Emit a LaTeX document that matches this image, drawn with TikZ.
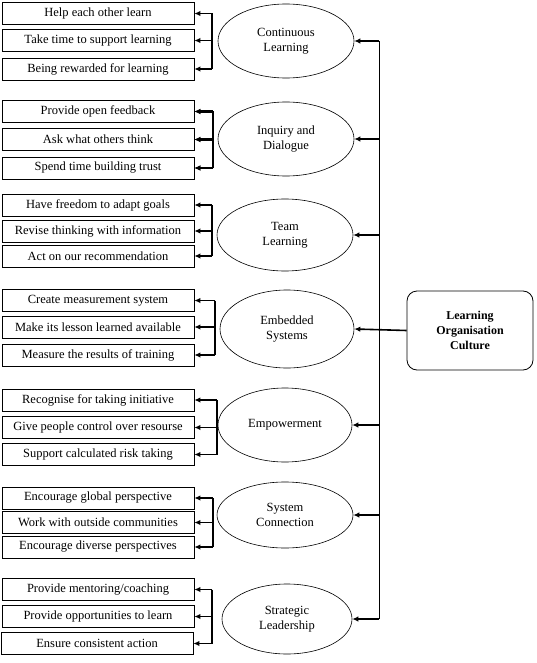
\documentclass[tikz,border=0pt]{standalone}
\usepackage{fontspec}
\setmainfont{Liberation Serif}
\usepackage{tikz}
\usetikzlibrary{arrows.meta}
\usetikzlibrary{shapes.geometric}

\begin{document}
\begin{tikzpicture}[x=1pt, y=-1pt, >={Latex[length=6pt,width=5.5pt]},
    item/.style={draw, line width=0.8pt, minimum width=192, minimum height=22,
        inner sep=0pt, font=\fontsize{12.5}{15}\selectfont},
    aspect/.style={draw, ellipse, line width=0.6pt, minimum width=136, minimum height=74,
        inner sep=0pt, align=center, font=\fontsize{12.5}{15}\selectfont},
    feed/.style={line width=1.4pt, ->},
    bracket/.style={line width=1.2pt}]

    % === Area del disegno ===
    \useasboundingbox (0,0) rectangle (537,663);

    % === Colonne di riferimento ===
    \coordinate (bus) at (379,0);   % Linea verticale principale
    \coordinate (br1) at (212,0);
    \coordinate (br2) at (213,0);
    \coordinate (br3) at (212,0);
    \coordinate (br4) at (215,0);
    \coordinate (br5) at (217,0);
    \coordinate (br6) at (213,0);
    \coordinate (br7) at (212,0);

    % === 1. Dimensioni (ellissi) ===
    \node[aspect] (c1) at (286,41) {Continuous\\Learning};
    \node[aspect] (c2) at (286,139) {Inquiry and\\Dialogue};
    \node[aspect, minimum height=72] (c3) at (285,235) {Team\\Learning};
    \node[aspect, minimum height=78, minimum width=134] (c4) at (287,329) {Embedded\\Systems};
    \node[aspect, minimum width=134] (c5) at (285,425) {Empowerment};
    \node[aspect, minimum height=66] (c6) at (285,515) {System\\Connection};
    \node[aspect, minimum height=70, minimum width=130] (c7) at (287,619) {Strategic\\Leadership};

    % === 2. Cultura dell'organizzazione ===
    \node[draw, rounded corners=10pt, line width=0.8pt, minimum width=126, minimum height=79,
        align=center, font=\bfseries\fontsize{12}{15}\selectfont] (culture) at (470,330.5)
        {Learning\\Organisation\\Culture};

    % === 3. Comportamenti (riquadri) ===
    \node[item] (h11) at (98,13.5) {Help each other learn};
    \node[item] (h12) at (98,40.5) {Take time to support learning};
    \node[item] (h13) at (98,69) {Being rewarded for learning};

    \node[item] (h21) at (98,111.5) {Provide open feedback};
    \node[item] (h22) at (98,139.5) {Ask what others think};
    \node[item] (h23) at (98,168) {Spend time building trust};

    \node[item] (h31) at (98,205) {Have freedom to adapt goals};
    \node[item] (h32) at (98,231) {Revise thinking with information};
    \node[item] (h33) at (98,256) {Act on our recommendation};

    \node[item] (h41) at (98,300.5) {Create measurement system};
    \node[item] (h42) at (98,327) {Make its lesson learned available};
    \node[item] (h43) at (98,355) {Measure the results of training};

    \node[item] (h51) at (98,400) {Recognise for taking initiative};
    \node[item] (h52) at (98,427.5) {Give people control over resourse};
    \node[item] (h53) at (98,454.5) {Support calculated risk taking};

    \node[item] (h61) at (98,498) {Encourage global perspective};
    \node[item] (h62) at (98,522.5) {Work with outside communities};
    \node[item] (h63) at (98,547) {Encourage diverse perspectives};

    \node[item] (h71) at (98,589.5) {Provide mentoring/coaching};
    \node[item] (h72) at (98,616.5) {Provide opportunities to learn};
    \node[item] (h73) at (97,643.5) {Ensure consistent action};

    % === 4. Parentesi e frecce verso i riquadri ===
    \foreach \g in {1,...,7} {
        \draw[bracket] (h\g1.east -| br\g) -- (h\g3.east -| br\g);
        \foreach \k in {1,2,3} {
            \draw[feed] (h\g\k.east -| br\g) -- (h\g\k.east);
        }
    }
    % Il secondo gruppo ha tratti piu' spessi
    \foreach \k in {1,2,3} {
        \draw[feed, line width=2.4pt] (h2\k.east -| br2) -- (h2\k.east);
    }

    % === 5. Linea principale e frecce verso le ellissi ===
    \draw[line width=0.9pt] (c1.east -| bus) -- (c7.east -| bus);
    \foreach \c in {1,2,3,5,6,7} {
        \draw[feed] (c\c.east -| bus) -- (c\c.east);
    }
    \draw[feed, line width=1.6pt] (culture.west) -- (c4.east);

\end{tikzpicture}
\end{document}
